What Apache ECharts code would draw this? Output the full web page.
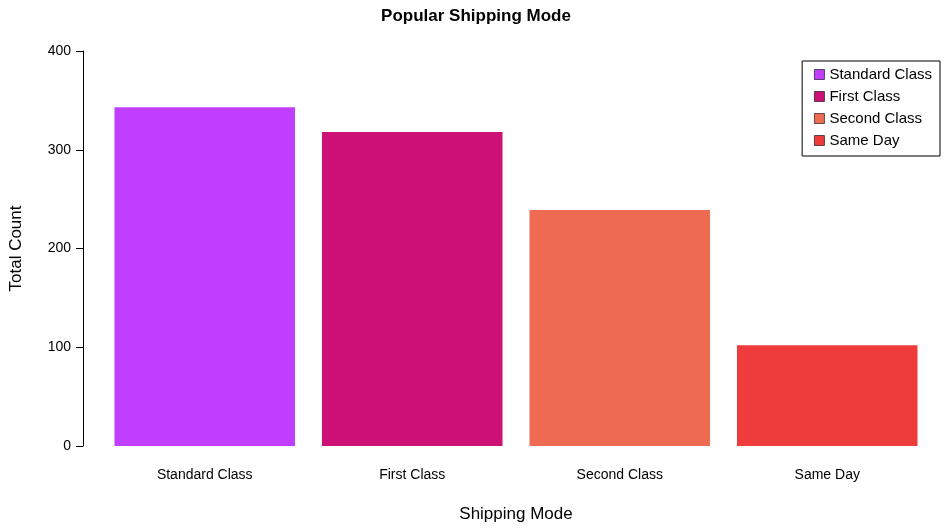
<!DOCTYPE html>
<html><head><meta charset="utf-8">
<script src="https://cdn.jsdelivr.net/npm/echarts@6/dist/echarts.min.js"></script>
<style>html,body{margin:0;padding:0;background:#fff}#c{width:952px;height:528px}</style>
</head><body><div id="c"></div>
<script>
var modes = ['Standard Class', 'First Class', 'Second Class', 'Same Day'];
var counts = [343, 318, 239, 102];
var colors = ['#BF3EFF', '#CD1076', '#EE6A50', '#EE3B3B'];
var yTicks = [0, 100, 200, 300, 400];

var chart = echarts.init(document.getElementById('c'));
var font = 'Liberation Sans, Arial, sans-serif';
// one series per mode, stacked so each bar sits in its own slot
var series = modes.map(function (m, i) {
    var d = modes.map(function (x, j) { return j === i ? counts[i] : '-'; });
    return { name: m, type: 'bar', stack: 'all', data: d, barCategoryGap: '13%',
        itemStyle: { color: colors[i] } };
});
chart.setOption({
    animation: false,
    textStyle: { fontFamily: font },
    title: { text: 'Popular Shipping Mode', left: 'center', top: 3,
        textStyle: { fontSize: 17, fontWeight: 'bold', color: '#000', fontFamily: font } },
    grid: { left: 96, right: 21, top: 51, bottom: 81 },
    legend: { data: modes, orient: 'vertical', right: 12, top: 61,
        itemWidth: 10, itemHeight: 10, itemGap: 7, icon: 'rect',
        borderColor: '#000', borderWidth: 1, borderRadius: 0, padding: [6, 8, 8, 12],
        textStyle: { fontSize: 15, color: '#000', fontFamily: font },
        itemStyle: { borderColor: '#000', borderWidth: 0.6 } },
    xAxis: { type: 'category', data: modes,
        axisLine: { show: false }, axisTick: { show: false },
        axisLabel: { fontSize: 14, color: '#000', margin: 22 },
        name: 'Shipping Mode', nameLocation: 'middle', nameGap: 60,
        nameTextStyle: { fontSize: 17, color: '#000' } },
    yAxis: { type: 'value', min: 0, max: 400, interval: 100, offset: 18,
        axisLine: { show: true, lineStyle: { color: '#000' } },
        axisTick: { show: true, length: 7, lineStyle: { color: '#000' } },
        splitLine: { show: false },
        axisLabel: { fontSize: 14, color: '#000', margin: 12,
            formatter: function (v) { return yTicks.indexOf(v) >= 0 ? v : ''; } },
        name: 'Total Count', nameLocation: 'middle', nameGap: 58, nameRotate: 90,
        nameTextStyle: { fontSize: 17, color: '#000' } },
    series: series
});
</script></body></html>
